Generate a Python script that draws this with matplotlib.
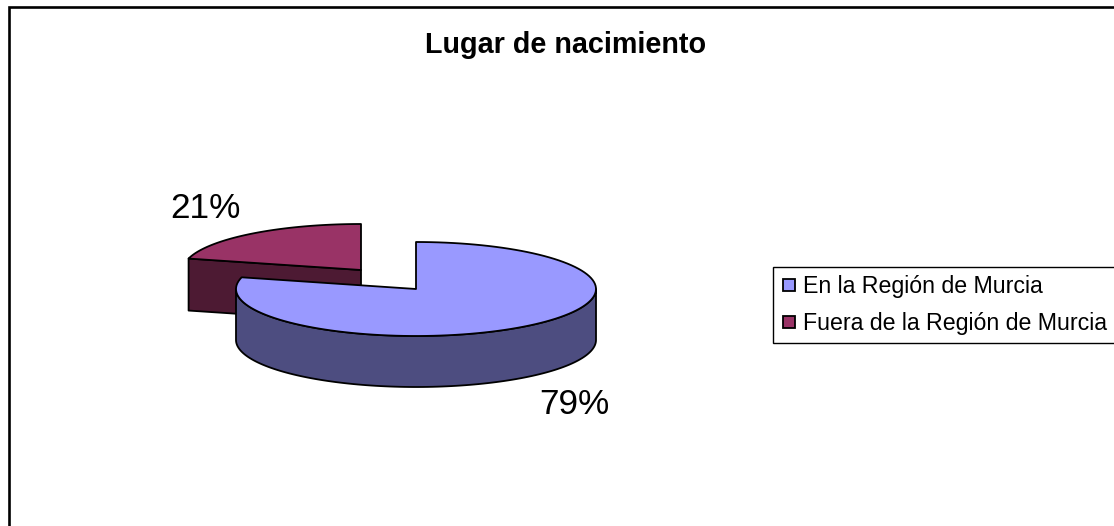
import matplotlib
matplotlib.use("Agg")
import matplotlib.pyplot as plt
from matplotlib.patches import Polygon
from matplotlib.lines import Line2D
import numpy as np

plt.rcParams['font.family'] = ['Liberation Sans', 'DejaVu Sans']

title = "Lugar de nacimiento"
categories = ["En la Región de Murcia", "Fuera de la Región de Murcia"]
values = [79, 21]
colors = ["#9999FF", "#993366"]
side_colors = ["#4D4D80", "#4D1A33"]

W, H = 1114, 526
fig = plt.figure(figsize=(W / 100, H / 100), dpi=100, facecolor='white')
ax = fig.add_axes([0, 0, 1, 1])
ax.set_xlim(0, W)
ax.set_ylim(H, 0)
ax.axis('off')

# chart frame, only top and left show up in the picture
ax.plot([9, 9, W + 5], [H + 5, 7, 7], color='black', lw=1.9, clip_on=False, solid_joinstyle='miter')


def rim(cx, cy, rx, ry, a0, a1, n=120):
    # angles in degrees, clockwise from 12 o'clock
    t = np.radians(np.linspace(a0, a1, n))
    return np.column_stack([cx + rx * np.sin(t), cy - ry * np.cos(t)])


def add_poly(pts, color):
    ax.add_patch(Polygon(pts, closed=True, facecolor=color, edgecolor='black', lw=1.3, joinstyle='round'))


angles = np.cumsum([0] + values) / sum(values) * 360

# small slice is pulled out, so it sits behind and gets its own centre
cx, cy, rx, ry, depth = 361, 270, 178, 46, 52
a0, a1 = angles[1], angles[2]
start = rim(cx, cy, rx, ry, a0, a0, 1)[0]
add_poly([start, (cx, cy), (cx, cy + depth), start + (0, depth)], side_colors[1])
add_poly(np.vstack([[(cx, cy)], rim(cx, cy, rx, ry, a0, a1)]), colors[1])

# big slice
cx, cy, rx, ry, depth = 416, 289, 180, 47, 51
a0, a1 = angles[0], angles[1]
front = rim(cx, cy, rx, ry, 90, 270)
add_poly(np.vstack([front, front[::-1] + (0, depth)]), side_colors[0])
add_poly(np.vstack([[(cx, cy)], rim(cx, cy, rx, ry, a0, a1)]), colors[0])

ax.text(566, 45, title, fontsize=20.7, fontweight='bold', ha='center', va='center')
ax.text(205, 208, f"{values[1]}%", fontsize=25.4, ha='center', va='center')
ax.text(574, 405, f"{values[0]}%", fontsize=25.4, ha='center', va='center')

# square markers so the swatch can sit independently of the legend padding
handles = [Line2D([], [], marker='s', ls='none', ms=8.8, mfc=c, mec='black', mew=1.3) for c in colors]
leg = ax.legend(handles, categories, loc='upper left', bbox_to_anchor=(773, 267),
                bbox_transform=ax.transData, fontsize=16.7, fancybox=False, framealpha=1,
                edgecolor='black', borderaxespad=0, borderpad=0.33, handlelength=0.73,
                handletextpad=0.25, labelspacing=0.63, numpoints=1)
leg.get_frame().set_linewidth(1.0)

plt.savefig("out.png", dpi=100)
